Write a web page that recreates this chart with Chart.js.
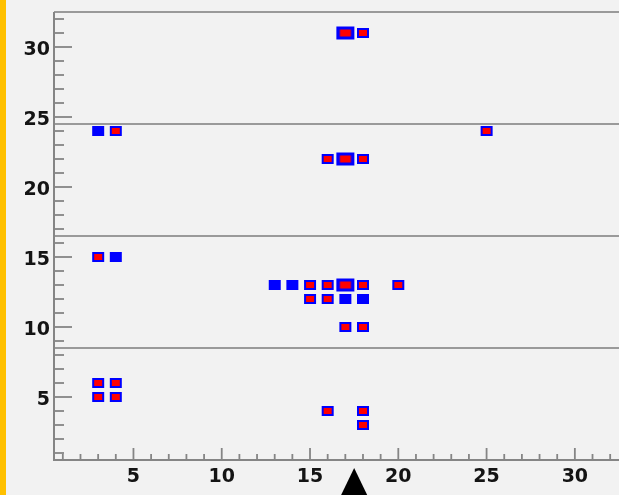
<!DOCTYPE html>
<html>
<head>
<meta charset="utf-8">
<script src="https://cdn.jsdelivr.net/npm/chart.js@4/dist/chart.umd.min.js"></script>
<style>
  html, body { margin: 0; padding: 0; background: #F2F2F2; }
  #wrap { width: 619px; height: 495px; }
</style>
</head>
<body>
<div id="wrap"><canvas id="c" width="619" height="495"></canvas></div>
<script>
// ---- data ----
const xTickLabels = [5, 10, 15, 20, 25, 30];
const yTickLabels = [5, 10, 15, 20, 25, 30];
const separators = [8.5, 16.5, 24.5, 32.5];
const arrowX = 17.5;

const blueX = [3, 4, 13, 14, 17, 18];
const blueY = [24, 15, 13, 13, 12, 12];

const redX = [18, 4, 25, 16, 18, 3, 15, 16, 18, 20, 15, 16, 17, 18, 3, 4, 3, 4, 16, 18, 18];
const redY = [31, 24, 24, 22, 22, 15, 13, 13, 13, 13, 12, 12, 10, 10, 6, 6, 5, 5, 4, 4, 3];

const bigX = [17, 17, 17];
const bigY = [31, 22, 13];

// ---- marker images ----
function makeMarker(w, h, iw, ih) {
  const pad = 2;
  const c = document.createElement('canvas');
  c.width = w + pad * 2; c.height = h + pad * 2;
  const g = c.getContext('2d');
  g.filter = 'blur(0.6px)';
  g.fillStyle = '#0000FF';
  g.fillRect(pad, pad, w, h);
  if (iw > 0) {
    g.fillStyle = '#FF0000';
    g.fillRect(pad + (w - iw) / 2, pad + (h - ih) / 2, iw, ih);
  }
  return c;
}
const blueMarker = makeMarker(12, 10, 0, 0);
const redMarker = makeMarker(12, 10, 8, 6);
const bigMarker = makeMarker(18, 13, 11, 7);

const toPts = (xs, ys) => xs.map((x, i) => ({ x: x, y: ys[i] }));

const frame = {
  id: 'frame',
  beforeDraw(chart) {
    const ctx = chart.ctx;
    ctx.save();
    ctx.fillStyle = '#F2F2F2';
    ctx.fillRect(0, 0, chart.width, chart.height);
    ctx.fillStyle = '#FFC000';
    ctx.fillRect(0, 0, 6, chart.height);
    ctx.restore();
  },
  beforeDatasetsDraw(chart) {
    const ctx = chart.ctx, xs = chart.scales.x, ys = chart.scales.y;
    const a = chart.chartArea;
    ctx.save();
    ctx.strokeStyle = '#9a9a9a';
    ctx.lineWidth = 2;
    separators.forEach(v => {
      const py = Math.round(ys.getPixelForValue(v));
      ctx.beginPath(); ctx.moveTo(a.left, py); ctx.lineTo(a.right, py); ctx.stroke();
    });
    // axis lines
    ctx.strokeStyle = '#858585';
    ctx.lineWidth = 2;
    ctx.beginPath();
    ctx.moveTo(a.left, a.top); ctx.lineTo(a.left, a.bottom); ctx.lineTo(a.right, a.bottom);
    ctx.stroke();
    // ticks (inside)
    ctx.lineWidth = 1.8;
    for (let v = 1; v <= 32; v++) {
      const py = ys.getPixelForValue(v);
      const len = v % 5 === 0 ? 18 : 10;
      ctx.beginPath(); ctx.moveTo(a.left, py); ctx.lineTo(a.left + len, py); ctx.stroke();
      const px = xs.getPixelForValue(v);
      const lx = v % 5 === 0 ? 12 : 6;
      ctx.beginPath(); ctx.moveTo(px, a.bottom); ctx.lineTo(px, a.bottom - lx); ctx.stroke();
    }
    ctx.restore();
  },
  afterDraw(chart) {
    const ctx = chart.ctx, xs = chart.scales.x;
    const px = xs.getPixelForValue(arrowX);
    ctx.save();
    ctx.fillStyle = '#000';
    ctx.beginPath();
    ctx.moveTo(px, 468);
    ctx.lineTo(px + 14, 497);
    ctx.lineTo(px - 14, 497);
    ctx.closePath();
    ctx.fill();
    ctx.restore();
  }
};

const tickFont = { family: '"DejaVu Sans", sans-serif', size: 19, weight: 'bold' };

new Chart(document.getElementById('c'), {
  type: 'scatter',
  data: {
    datasets: [
      { label: 'blue', data: toPts(blueX, blueY), pointStyle: blueMarker },
      { label: 'red', data: toPts(redX, redY), pointStyle: redMarker },
      { label: 'big', data: toPts(bigX, bigY), pointStyle: bigMarker }
    ]
  },
  options: {
    responsive: false,
    animation: false,
    layout: { autoPadding: false, padding: { top: 12, right: 0, left: 0, bottom: 0 } },
    plugins: { legend: { display: false }, tooltip: { enabled: false } },
    scales: {
      x: {
        type: 'linear', min: 0.5, max: 32.5,
        grid: { display: false, drawTicks: false },
        border: { display: false },
        afterBuildTicks: s => { s.ticks = xTickLabels.map(v => ({ value: v })); },
        afterFit: s => { s.height = 35; s.paddingLeft = 0; s.paddingRight = 0; },
        ticks: { font: tickFont, color: '#141414', padding: 6, maxRotation: 0, autoSkip: false }
      },
      y: {
        type: 'linear', min: 0.5, max: 32.5,
        grid: { display: false, drawTicks: false },
        border: { display: false },
        afterBuildTicks: s => { s.ticks = yTickLabels.map(v => ({ value: v })); },
        afterFit: s => { s.width = 54; s.paddingTop = 0; s.paddingBottom = 0; },
        ticks: { font: tickFont, color: '#141414', padding: 4, labelOffset: 3, autoSkip: false }
      }
    }
  },
  plugins: [frame]
});
</script>
</body>
</html>
